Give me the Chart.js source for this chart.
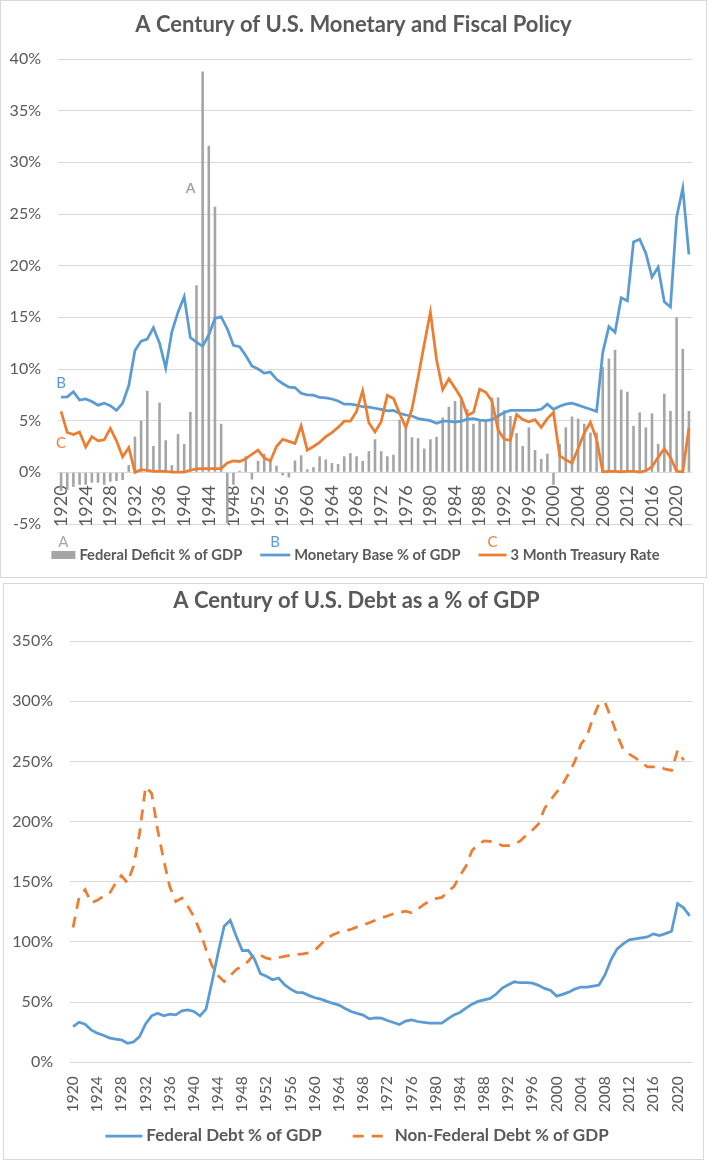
<!DOCTYPE html>
<html>
<head>
<meta charset="utf-8">
<script src="https://cdn.jsdelivr.net/npm/chart.js@4.4.0/dist/chart.umd.min.js"></script>
<style>
  body { margin: 0; background: #fff; }
  .box { position: absolute; border: 1px solid #d9d9d9; background: #fff; }
  #box1 { left: 0; top: 0; width: 705px; height: 576px; }
  #box2 { left: 3px; top: 583px; width: 699px; height: 575px; }
  canvas { display: block; }
</style>
</head>
<body>
<div class="box" id="box1"><canvas id="fiscalChart" width="705" height="576"></canvas></div>
<div class="box" id="box2"><canvas id="debtChart" width="699" height="575"></canvas></div>
<script>
// categories: one per year
const years = [];
for (let y = 1920; y <= 2022; y++) years.push(String(y));

// top chart series (% of GDP / %)
const federalDeficit = [
  -1.8, -1.7, -1.4, -1.2, -1.2, -1.0, -1.0, -1.2, -0.9, -0.85,
  -0.75, 0.7, 3.45, 5.0, 7.9, 2.55, 6.75, 3.1, 0.7, 3.7,
  2.75, 5.85, 18.1, 38.8, 31.6, 25.7, 4.7, -4.9, -1.2, 0.15,
  1.55, -0.7, 1.1, 1.8, 1.2, 0.65, -0.3, -0.5, 1.15, 1.65,
  0.3, 0.5, 1.55, 1.25, 0.9, 0.8, 1.55, 1.85, 1.55, 1.1,
  2.05, 3.2, 2.05, 1.55, 1.7, 5.1, 4.2, 3.4, 3.3, 2.3,
  3.2, 3.45, 5.3, 6.35, 6.9, 7.0, 6.1, 4.7, 5.0, 5.0,
  7.25, 7.25, 6.0, 5.45, 3.8, 2.55, 4.35, 2.15, 1.3, 1.8,
  -1.2, 2.75, 4.35, 5.4, 5.2, 4.7, 3.85, 3.85, 10.2, 11.0,
  11.85, 8.0, 7.8, 4.5, 5.8, 4.35, 5.7, 2.75, 7.6, 5.95,
  15.0, 11.95, 5.95
];
const monetaryBase = [
  7.27, 7.3, 7.8, 7.0, 7.1, 6.85, 6.5, 6.7, 6.45, 6.0,
  6.7, 8.4, 11.8, 12.7, 12.9, 14.0, 12.5, 10.1, 13.6, 15.5,
  17.0, 13.05, 12.6, 12.2, 13.3, 14.9, 15.05, 13.9, 12.3, 12.15,
  11.3, 10.3, 10.0, 9.6, 9.7, 9.0, 8.6, 8.25, 8.2, 7.65,
  7.5, 7.47, 7.25, 7.2, 7.1, 6.9, 6.6, 6.6, 6.5, 6.35,
  6.3, 6.2, 6.1, 5.95, 6.0, 5.7, 5.55, 5.45, 5.2, 5.1,
  5.0, 4.75, 4.95, 4.95, 4.85, 4.95, 5.15, 5.2, 5.05, 5.0,
  5.1, 5.45, 5.8, 6.0, 6.0, 6.0, 6.0, 6.0, 6.1, 6.6,
  6.1, 6.4, 6.6, 6.7, 6.5, 6.3, 6.1, 5.9, 11.6, 14.1,
  13.55, 16.9, 16.6, 22.3, 22.55, 21.2, 18.9, 19.85, 16.5, 16.0,
  24.7, 27.5, 21.1
];
const treasuryRate = [
  5.9, 3.85, 3.65, 3.9, 2.45, 3.45, 3.05, 3.15, 4.25, 3.05,
  1.5, 2.4, 0.0, 0.26, 0.2, 0.1, 0.1, 0.1, 0.02, 0.02,
  0.02, 0.2, 0.33, 0.37, 0.37, 0.37, 0.37, 0.9, 1.1, 1.05,
  1.3, 1.75, 2.15, 1.4, 1.1, 2.5, 3.2, 3.0, 2.8, 4.5,
  2.15, 2.5, 2.9, 3.45, 3.85, 4.35, 4.95, 4.95, 5.9, 7.9,
  4.8, 3.9, 4.9, 7.45, 7.15, 5.7, 4.35, 6.1, 9.2, 12.4,
  15.5, 10.9, 8.0, 9.05, 8.15, 7.2, 5.5, 5.8, 8.05, 7.75,
  6.9, 4.1, 3.2, 3.1, 5.6, 5.1, 4.9, 5.1, 4.35, 5.2,
  5.8, 1.6, 1.2, 0.9, 2.3, 3.8, 4.85, 3.2, 0.05, 0.1,
  0.1, 0.05, 0.1, 0.1, 0.03, 0.15, 0.55, 1.45, 2.3, 1.45,
  0.1, 0.05, 4.3
];

// bottom chart series (% of GDP)
const federalDebt = [
  29.7, 33.3, 31.7, 26.9, 24.2, 22.5, 20.3, 19.2, 18.6, 15.8,
  16.9, 21.4, 31.9, 38.6, 40.8, 38.6, 40.0, 39.4, 42.8, 43.6,
  42.2, 38.6, 44.2, 67, 91, 113, 118, 104.7, 92.8, 93,
  85.8, 73.6, 71.4, 68.6, 70, 64.4, 60.8, 58, 57.8, 55.6,
  53.6, 52.5, 50.6, 48.9, 47.5, 44.7, 42.2, 40.6, 39.2, 36.1,
  36.9, 36.7, 34.7, 33.1, 31.4, 34.2, 35.3, 33.9, 33.1, 32.5,
  32.5, 32.5, 36.1, 39.4, 41.4, 45, 48.3, 50.6, 51.9, 53.1,
  56.7, 61.7, 64.4, 66.9, 66.1, 66.1, 65.8, 63.9, 61.4, 59.7,
  55, 56.4, 58.3, 60.8, 62.5, 62.5, 63.3, 64.2, 72.8, 85.3,
  94.2, 98.3, 101.7, 102.5, 103.3, 104.2, 106.7, 105.3, 106.9, 108.9,
  131.9, 128.3, 121.7
];
const nonFederalDebt = [
  112, 137, 143.5, 132.5, 134.5, 138, 140, 148.5, 155, 149,
  163, 190, 229, 223.5, 193, 168, 146, 133.5, 136.5, 129.5,
  121, 109, 93.6, 80, 72, 67, 72, 77, 80, 84,
  90, 89, 86.5, 85.5, 87, 88, 89, 89.5, 90, 91,
  93, 98, 103, 106, 108, 109, 110.5, 112.5, 114, 116,
  118, 120, 121.5, 123.5, 124.5, 125.5, 124.2, 127, 131, 134,
  136, 137, 141.8, 146, 155, 163, 176, 181, 184, 183.5,
  182.5, 180, 180, 181, 184, 189, 193, 198, 211, 218,
  224.4, 231, 240, 250, 264, 271, 286, 298, 299, 286,
  272, 260, 256, 253, 249, 245.5, 245.5, 245.5, 243.5, 242.5,
  259, 251, null
];

Chart.defaults.font.family = 'Lato, "Open Sans", sans-serif';
Chart.defaults.color = '#595959';

// Excel-style legend: key, optional letter above the key, then the label
function excelLegend(cfg) {
  return {
    id: 'excelLegend',
    afterDraw(chart) {
      const ctx = chart.ctx;
      const sets = chart.data.datasets;
      ctx.save();
      ctx.font = cfg.font;
      ctx.textBaseline = 'middle';
      const widths = sets.map((ds, i) => cfg.keys[i].width + cfg.keyGap + ctx.measureText(ds.label).width);
      const total = widths.reduce((a, b) => a + b, 0) + cfg.itemGap * (sets.length - 1);
      let x = (chart.width - total) / 2 + cfg.shift;
      sets.forEach((ds, i) => {
        const key = cfg.keys[i];
        const color = ds.type === 'bar' ? ds.backgroundColor : ds.borderColor;
        if (key.height) {
          ctx.fillStyle = color;
          ctx.fillRect(x, cfg.y - key.height / 2, key.width, key.height);
        } else {
          ctx.strokeStyle = color;
          ctx.lineWidth = ds.borderWidth;
          ctx.setLineDash(ds.borderDash || []);
          ctx.beginPath();
          ctx.moveTo(x, cfg.y);
          ctx.lineTo(x + key.width, cfg.y);
          ctx.stroke();
          ctx.setLineDash([]);
        }
        if (key.letter) {
          ctx.save();
          ctx.font = cfg.letterFont;
          ctx.fillStyle = color;
          ctx.textAlign = 'center';
          ctx.fillText(key.letter, x + key.width / 2, cfg.letterY);
          ctx.restore();
        }
        ctx.fillStyle = '#595959';
        ctx.textAlign = 'left';
        ctx.fillText(ds.label, x + key.width + cfg.keyGap, cfg.y);
        x += widths[i] + cfg.itemGap;
      });
      ctx.restore();
    }
  };
}

// letters placed on the plot at (category, value)
const plotLetters = [
  { text: 'A', dataset: 0, index: 23, value: 27.5, dx: -12, font: 'bold 14px Lato' },
  { text: 'B', dataset: 1, index: 0, value: 8.6, dx: 0, font: '15px Lato' },
  { text: 'C', dataset: 2, index: 0, value: 2.8, dx: 0, font: '15px Lato' }
];
const letterPlugin = {
  id: 'letterPlugin',
  afterDatasetsDraw(chart) {
    const { ctx, scales: { x, y } } = chart;
    ctx.save();
    ctx.textAlign = 'center';
    ctx.textBaseline = 'middle';
    plotLetters.forEach(l => {
      const ds = chart.data.datasets[l.dataset];
      ctx.fillStyle = ds.type === 'bar' ? ds.backgroundColor : ds.borderColor;
      ctx.font = l.font;
      ctx.fillText(l.text, x.getPixelForValue(l.index) + l.dx, y.getPixelForValue(l.value));
    });
    ctx.restore();
  }
};

const everyFourth = (v, i) => (i % 4 === 0 ? years[i] : '');

new Chart(document.getElementById('fiscalChart'), {
  type: 'bar',
  data: {
    labels: years,
    datasets: [
      {
        type: 'bar',
        label: 'Federal Deficit % of GDP',
        data: federalDeficit,
        backgroundColor: '#a5a5a5',
        barPercentage: 0.42,
        categoryPercentage: 1,
        order: 3
      },
      {
        type: 'line',
        label: 'Monetary Base % of GDP',
        data: monetaryBase,
        borderColor: '#5b9bd5',
        backgroundColor: '#5b9bd5',
        borderWidth: 2.75,
        pointRadius: 0,
        tension: 0,
        order: 2
      },
      {
        type: 'line',
        label: '3 Month Treasury Rate',
        data: treasuryRate,
        borderColor: '#ed7d31',
        backgroundColor: '#ed7d31',
        borderWidth: 2.75,
        pointRadius: 0,
        tension: 0,
        order: 1
      }
    ]
  },
  options: {
    responsive: false,
    animation: false,
    layout: { padding: { left: 0, right: 0, top: 0, bottom: 53 } },
    plugins: {
      legend: { display: false },
      tooltip: { enabled: false },
      title: {
        display: true,
        text: 'A Century of U.S. Monetary and Fiscal Policy',
        color: '#595959',
        font: { size: 22, weight: 'bold' },
        padding: { top: 10.8, bottom: 20.8 }
      }
    },
    scales: {
      x: {
        position: { y: 0 },
        offset: true,
        grid: { display: false },
        border: { display: false },
        ticks: { autoSkip: false, minRotation: 90, maxRotation: 90, padding: 5, font: { size: 18 }, callback: everyFourth },
        afterFit(s) { s.paddingLeft = 0; s.paddingRight = 14; }
      },
      y: {
        min: -5,
        max: 40,
        grid: { color: '#d9d9d9', drawTicks: false },
        border: { display: false },
        ticks: { stepSize: 5, padding: 17, font: { size: 16 }, callback: v => v + '%' },
        afterFit(s) { s.width = 57; }
      }
    }
  },
  plugins: [
    letterPlugin,
    excelLegend({
      font: 'bold 14.7px Lato', letterFont: '15px Lato', y: 554, letterY: 541, keyGap: 4, itemGap: 18, shift: 2,
      keys: [{ width: 24, height: 8, letter: 'A' }, { width: 30, letter: 'B' }, { width: 28, letter: 'C' }]
    })
  ]
});

new Chart(document.getElementById('debtChart'), {
  type: 'line',
  data: {
    labels: years,
    datasets: [
      {
        label: 'Federal Debt % of GDP',
        data: federalDebt,
        borderColor: '#5b9bd5',
        borderWidth: 2.75,
        pointRadius: 0,
        tension: 0
      },
      {
        label: 'Non-Federal Debt % of GDP',
        data: nonFederalDebt,
        borderColor: '#ed7d31',
        borderWidth: 2.75,
        borderDash: [11, 8],
        pointRadius: 0,
        tension: 0
      }
    ]
  },
  options: {
    responsive: false,
    animation: false,
    layout: { padding: { left: 6, right: 0, top: 0, bottom: 46.7 } },
    plugins: {
      legend: { display: false },
      tooltip: { enabled: false },
      title: {
        display: true,
        text: 'A Century of U.S. Debt as a % of GDP',
        color: '#595959',
        font: { size: 22, weight: 'bold' },
        padding: { top: 3.8, bottom: 26.8 }
      }
    },
    scales: {
      x: {
        offset: true,
        grid: { display: false },
        border: { display: false },
        ticks: { autoSkip: false, minRotation: 90, maxRotation: 90, padding: 6, font: { size: 15.5 }, callback: everyFourth },
        afterFit(s) { s.height = 50; s.paddingLeft = 0; s.paddingRight = 10.3; }
      },
      y: {
        min: 0,
        max: 350,
        grid: { color: '#d9d9d9', drawTicks: false },
        border: { display: false },
        ticks: { stepSize: 50, padding: 17, font: { size: 16 }, callback: v => v + '%' },
        afterFit(s) { s.width = 60; }
      }
    }
  },
  plugins: [
    excelLegend({
      font: 'bold 17px Lato', letterFont: '15px Lato', y: 552, letterY: 540, keyGap: 4, itemGap: 31, shift: 3.5,
      keys: [{ width: 37 }, { width: 38 }]
    })
  ]
});
</script>
</body>
</html>
